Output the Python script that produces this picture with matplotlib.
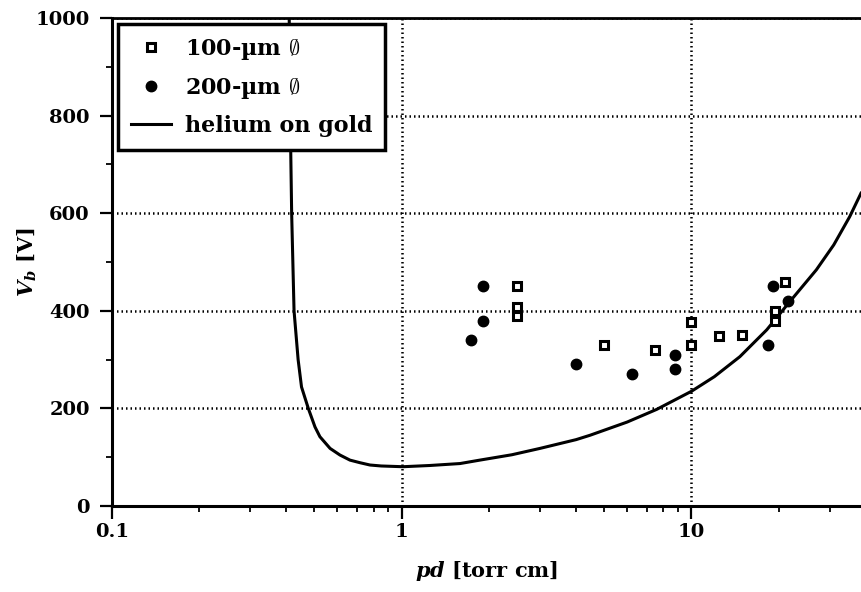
import matplotlib
matplotlib.use('Agg')
import matplotlib.pyplot as plt
from matplotlib.ticker import FixedLocator, FixedFormatter, NullFormatter

# breakdown voltage measurements (pd in torr cm, Vb in volts)
pd_100um = [2.5, 2.5, 2.5, 5.0, 7.5, 10.0, 10.0, 12.5, 15.0, 19.5, 19.5, 21.0]
vb_100um = [450, 408, 390, 330, 320, 378, 330, 348, 350, 400, 380, 458]

pd_200um = [1.73, 1.91, 1.91, 4.0, 6.26, 8.77, 8.77, 18.4, 19.2, 21.6]
vb_200um = [340, 380, 450, 290, 270, 310, 280, 330, 450, 420]

# Paschen curve, helium on gold
pd_curve = [0.409, 0.414, 0.417, 0.425, 0.439, 0.451, 0.476, 0.502, 0.522, 0.566,
            0.612, 0.663, 0.718, 0.777, 0.85, 1.01, 1.25, 1.59, 1.86, 2.4, 3.0,
            4.0, 4.47, 6.0, 7.59, 10.0, 12.0, 14.7, 18.2, 21.6, 27.0, 31.0, 35.2, 38.5]
vb_curve = [1000, 726, 600, 400, 300, 244, 200, 162, 142, 118,
            104.5, 94, 88.7, 84, 82, 80.5, 83, 87, 94, 105, 118,
            136, 145, 172, 198, 235, 265, 306, 361, 415, 484, 535, 593, 641]

x_ticks = [0.1, 1, 10]
x_ticklabels = ['0.1', '1', '10']
y_ticks = [0, 200, 400, 600, 800, 1000]
y_minor = [100, 300, 500, 700, 900]

plt.rcParams['font.family'] = ['DejaVu Serif']
plt.rcParams['font.weight'] = 'bold'
plt.rcParams['axes.labelweight'] = 'bold'
plt.rcParams['mathtext.fontset'] = 'custom'
plt.rcParams['mathtext.rm'] = 'DejaVu Serif:bold'
plt.rcParams['mathtext.bf'] = 'DejaVu Serif:bold'
plt.rcParams['mathtext.it'] = 'DejaVu Serif:italic:bold'

fig = plt.figure(figsize=(8.61, 5.92), dpi=100)
ax = fig.add_axes([112 / 861, 86 / 592, 749 / 861, 488 / 592])

ax.set_xscale('log')
ax.set_xlim(0.1, 38.5)
ax.set_ylim(0, 1000)

ax.grid(True, which='major', color='black', linestyle=(0, (0.6, 1.2)), linewidth=1.8)
ax.set_axisbelow(True)

ax.plot(pd_100um, vb_100um, linestyle='none', marker='s', markersize=5.5,
        markerfacecolor='white', markeredgecolor='black', markeredgewidth=2.2,
        label='100-µm $\\emptyset$', zorder=4)
ax.plot(pd_200um, vb_200um, linestyle='none', marker='o', markersize=7.5,
        color='black', label='200-µm $\\emptyset$', zorder=4)
ax.plot(pd_curve, vb_curve, color='black', linewidth=2.2, label='helium on gold', zorder=3)

ax.xaxis.set_major_locator(FixedLocator(x_ticks))
ax.xaxis.set_major_formatter(FixedFormatter(x_ticklabels))
ax.xaxis.set_minor_formatter(NullFormatter())
ax.yaxis.set_major_locator(FixedLocator(y_ticks))
ax.yaxis.set_minor_locator(FixedLocator(y_minor))

ax.tick_params(which='major', direction='out', length=9, width=1.6, labelsize=14, pad=3)
ax.tick_params(axis='y', which='major', pad=7)
ax.tick_params(which='minor', direction='out', length=4, width=1.3)
ax.tick_params(top=False, right=False)

for side in ['left', 'bottom']:
    ax.spines[side].set_linewidth(2.2)
ax.spines['top'].set_linewidth(2.0)
ax.spines['right'].set_visible(False)

ax.set_xlabel('$pd$ [torr cm]', fontsize=15, labelpad=13)
ax.set_ylabel('$V_b$ [V]', fontsize=15)
ax.yaxis.set_label_coords(-0.097, 0.5)

leg = ax.legend(loc='upper left', bbox_to_anchor=(0.008, 0.988), borderaxespad=0,
                fontsize=16, numpoints=1, handlelength=1.8, handletextpad=0.6,
                labelspacing=0.62, borderpad=0.6, fancybox=False, framealpha=1)
leg.get_frame().set_edgecolor('black')
leg.get_frame().set_linewidth(2.5)

fig.savefig('out.png', dpi=100)
